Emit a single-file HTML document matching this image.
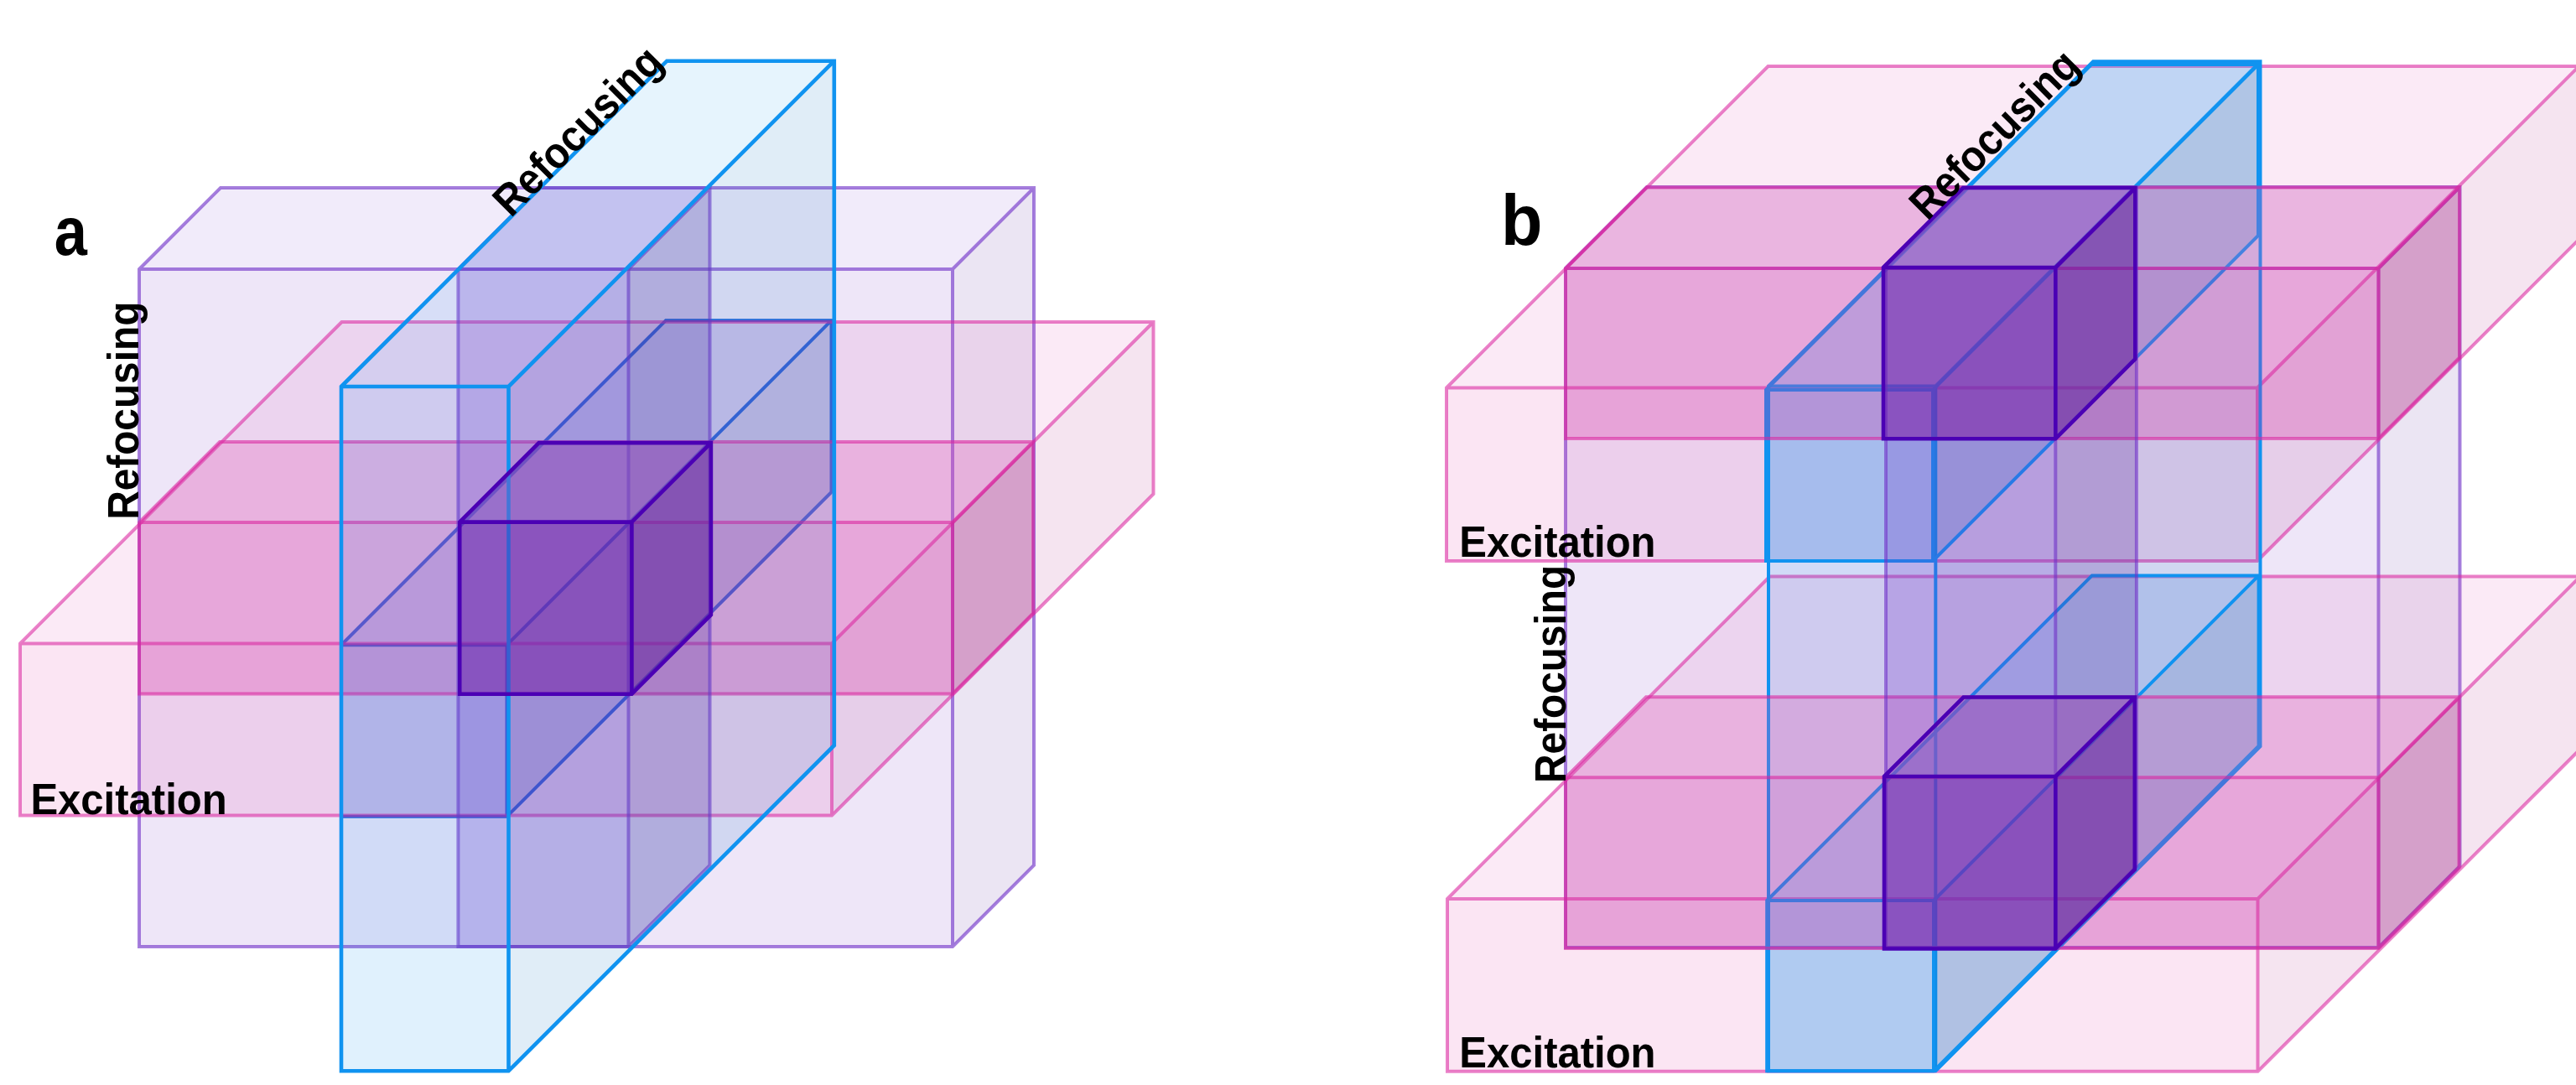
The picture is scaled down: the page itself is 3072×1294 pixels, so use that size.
<!DOCTYPE html>
<html lang="en"><head><meta charset="utf-8"><title>Figure</title>
<style>
html,body{margin:0;padding:0;background:#fff;}
body{width:3072px;height:1294px;overflow:hidden;}
svg{display:block;}
text{font-family:"Liberation Sans",sans-serif;font-weight:bold;fill:#000;}
</style></head><body>
<svg width="3072" height="1294" viewBox="0 0 3072 1294">
<rect width="3072" height="1294" fill="#fff"/>
<g><path d="M166.0 321.0H1136.0V1129.0H166.0Z" fill="rgba(112,48,200,0.120)"/><path d="M166.0 321.0L263.0 224.0L1233.0 224.0L1136.0 321.0Z" fill="rgba(141,89,211,0.120)"/><path d="M1136.0 321.0L1233.0 224.0L1233.0 1032.0L1136.0 1129.0Z" fill="rgba(90,38,160,0.120)"/><path d="M166.0 321.0L263.0 224.0L1233.0 224.0L1233.0 1032.0L1136.0 1129.0L166.0 1129.0Z M166.0 321.0H1136.0V1129.0 M1136.0 321.0L1233.0 224.0" fill="none" stroke="rgba(112,48,200,0.620)" stroke-width="4.0" stroke-linejoin="miter"/></g>
<g><path d="M407.0 769.2H604.5V973.8H407.0Z" fill="rgba(35,100,218,0.190)"/><path d="M407.0 769.2L794.0 382.2L991.5 382.2L604.5 769.2Z" fill="rgba(79,131,225,0.190)"/><path d="M604.5 769.2L991.5 382.2L991.5 586.8L604.5 973.8Z" fill="rgba(28,80,174,0.190)"/><path d="M407.0 769.2L794.0 382.2L991.5 382.2L991.5 586.8L604.5 973.8L407.0 973.8Z M407.0 769.2H604.5V973.8 M604.5 769.2L991.5 382.2" fill="none" stroke="rgba(35,100,218,1.000)" stroke-width="4.0" stroke-linejoin="miter"/></g>
<g><path d="M24.0 767.5H992.0V972.6H24.0Z" fill="rgba(218,38,160,0.120)"/><path d="M24.0 767.5L407.5 384.0L1375.5 384.0L992.0 767.5Z" fill="rgba(225,81,179,0.120)"/><path d="M992.0 767.5L1375.5 384.0L1375.5 589.1L992.0 972.6Z" fill="rgba(174,30,128,0.120)"/><path d="M24.0 767.5L407.5 384.0L1375.5 384.0L1375.5 589.1L992.0 972.6L24.0 972.6Z M24.0 767.5H992.0V972.6 M992.0 767.5L1375.5 384.0" fill="none" stroke="rgba(218,38,160,0.580)" stroke-width="4.0" stroke-linejoin="miter"/></g>
<g><path d="M166.0 623.0H1136.0V827.5H166.0Z" fill="rgba(218,38,160,0.260)"/><path d="M166.0 623.0L262.0 527.0L1232.0 527.0L1136.0 623.0Z" fill="rgba(225,81,179,0.260)"/><path d="M1136.0 623.0L1232.0 527.0L1232.0 731.5L1136.0 827.5Z" fill="rgba(174,30,128,0.260)"/><path d="M166.0 623.0L262.0 527.0L1232.0 527.0L1232.0 731.5L1136.0 827.5L166.0 827.5Z M166.0 623.0H1136.0V827.5 M1136.0 623.0L1232.0 527.0" fill="none" stroke="rgba(218,38,160,0.600)" stroke-width="4.0" stroke-linejoin="miter"/></g>
<g><path d="M546.4 321.0H749.5V1129.0H546.4Z" fill="rgba(112,48,200,0.250)"/><path d="M546.4 321.0L643.4 224.0L846.5 224.0L749.5 321.0Z" fill="rgba(141,89,211,0.250)"/><path d="M749.5 321.0L846.5 224.0L846.5 1032.0L749.5 1129.0Z" fill="rgba(90,38,160,0.250)"/><path d="M546.4 321.0L643.4 224.0L846.5 224.0L846.5 1032.0L749.5 1129.0L546.4 1129.0Z M546.4 321.0H749.5V1129.0 M749.5 321.0L846.5 224.0" fill="none" stroke="rgba(112,48,200,0.600)" stroke-width="4.0" stroke-linejoin="miter"/></g>
<g><path d="M407.0 461.0H606.5V1277.3H407.0Z" fill="rgba(16,147,240,0.130)"/><path d="M407.0 461.0L795.3 72.7L994.8 72.7L606.5 461.0Z" fill="rgba(64,169,243,0.130)"/><path d="M606.5 461.0L994.8 72.7L994.8 889.0L606.5 1277.3Z" fill="rgba(13,118,192,0.130)"/><path d="M407.0 461.0L795.3 72.7L994.8 72.7L994.8 889.0L606.5 1277.3L407.0 1277.3Z M407.0 461.0H606.5V1277.3 M606.5 461.0L994.8 72.7" fill="none" stroke="rgba(16,147,240,1.000)" stroke-width="4.6" stroke-linejoin="miter"/></g>
<g><path d="M548.2 622.6H753.4V827.7H548.2Z" fill="rgba(105,28,164,0.420)"/><path d="M548.2 622.6L642.7 528.1L847.9 528.1L753.4 622.6Z" fill="rgba(138,78,184,0.420)"/><path d="M753.4 622.6L847.9 528.1L847.9 733.2L753.4 827.7Z" fill="rgba(99,26,154,0.420)"/><path d="M548.2 622.6L642.7 528.1L847.9 528.1L847.9 733.2L753.4 827.7L548.2 827.7Z M548.2 622.6H753.4V827.7 M753.4 622.6L847.9 528.1" fill="none" stroke="rgba(75,0,180,1.000)" stroke-width="4.6" stroke-linejoin="miter"/></g>
<g><path d="M1867.0 320.0H2836.5V1130.0H1867.0Z" fill="rgba(112,48,200,0.120)"/><path d="M1867.0 320.0L1964.0 223.0L2933.5 223.0L2836.5 320.0Z" fill="rgba(141,89,211,0.120)"/><path d="M2836.5 320.0L2933.5 223.0L2933.5 1033.0L2836.5 1130.0Z" fill="rgba(90,38,160,0.120)"/><path d="M1867.0 320.0L1964.0 223.0L2933.5 223.0L2933.5 1033.0L2836.5 1130.0L1867.0 1130.0Z M1867.0 320.0H2836.5V1130.0 M2836.5 320.0L2933.5 223.0" fill="none" stroke="rgba(112,48,200,0.620)" stroke-width="4.0" stroke-linejoin="miter"/></g>
<g><path d="M1725.0 462.5H2692.0V669.0H1725.0Z" fill="rgba(218,38,160,0.120)"/><path d="M1725.0 462.5L2108.5 79.0L3075.5 79.0L2692.0 462.5Z" fill="rgba(225,81,179,0.120)"/><path d="M2692.0 462.5L3075.5 79.0L3075.5 285.5L2692.0 669.0Z" fill="rgba(174,30,128,0.120)"/><path d="M1725.0 462.5L2108.5 79.0L3075.5 79.0L3075.5 285.5L2692.0 669.0L1725.0 669.0Z M1725.0 462.5H2692.0V669.0 M2692.0 462.5L3075.5 79.0" fill="none" stroke="rgba(218,38,160,0.580)" stroke-width="4.0" stroke-linejoin="miter"/></g>
<g><path d="M1726.0 1072.0H2692.5V1277.8H1726.0Z" fill="rgba(218,38,160,0.120)"/><path d="M1726.0 1072.0L2110.5 687.5L3077.0 687.5L2692.5 1072.0Z" fill="rgba(225,81,179,0.120)"/><path d="M2692.5 1072.0L3077.0 687.5L3077.0 893.3L2692.5 1277.8Z" fill="rgba(174,30,128,0.120)"/><path d="M1726.0 1072.0L2110.5 687.5L3077.0 687.5L3077.0 893.3L2692.5 1277.8L1726.0 1277.8Z M1726.0 1072.0H2692.5V1277.8 M2692.5 1072.0L3077.0 687.5" fill="none" stroke="rgba(218,38,160,0.580)" stroke-width="4.0" stroke-linejoin="miter"/></g>
<g><path d="M2109.0 460.5H2308.3V1277.3H2109.0Z" fill="rgba(16,147,240,0.130)"/><path d="M2109.0 460.5L2496.2 73.3L2695.5 73.3L2308.3 460.5Z" fill="rgba(64,169,243,0.130)"/><path d="M2308.3 460.5L2695.5 73.3L2695.5 890.1L2308.3 1277.3Z" fill="rgba(13,118,192,0.130)"/><path d="M2109.0 460.5L2496.2 73.3L2695.5 73.3L2695.5 890.1L2308.3 1277.3L2109.0 1277.3Z M2109.0 460.5H2308.3V1277.3 M2308.3 460.5L2695.5 73.3" fill="none" stroke="rgba(16,147,240,1.000)" stroke-width="4.0" stroke-linejoin="miter"/></g>
<g><path d="M2106.0 465.0H2305.0V669.0H2106.0Z" fill="rgba(16,147,240,0.210)"/><path d="M2106.0 465.0L2494.0 77.0L2693.0 77.0L2305.0 465.0Z" fill="rgba(64,169,243,0.210)"/><path d="M2305.0 465.0L2693.0 77.0L2693.0 281.0L2305.0 669.0Z" fill="rgba(13,118,192,0.210)"/><path d="M2106.0 465.0L2494.0 77.0L2693.0 77.0L2693.0 281.0L2305.0 669.0L2106.0 669.0Z M2106.0 465.0H2305.0V669.0 M2305.0 465.0L2693.0 77.0" fill="none" stroke="rgba(16,147,240,1.000)" stroke-width="4.0" stroke-linejoin="miter"/></g>
<g><path d="M2107.2 1074.0H2306.0V1277.3H2107.2Z" fill="rgba(16,147,240,0.210)"/><path d="M2107.2 1074.0L2494.8 686.4L2693.6 686.4L2306.0 1074.0Z" fill="rgba(64,169,243,0.210)"/><path d="M2306.0 1074.0L2693.6 686.4L2693.6 889.7L2306.0 1277.3Z" fill="rgba(13,118,192,0.210)"/><path d="M2107.2 1074.0L2494.8 686.4L2693.6 686.4L2693.6 889.7L2306.0 1277.3L2107.2 1277.3Z M2107.2 1074.0H2306.0V1277.3 M2306.0 1074.0L2693.6 686.4" fill="none" stroke="rgba(16,147,240,1.000)" stroke-width="4.0" stroke-linejoin="miter"/></g>
<g><path d="M1867.0 320.0H2836.5V523.0H1867.0Z" fill="rgba(218,38,160,0.260)"/><path d="M1867.0 320.0L1963.6 223.4L2933.1 223.4L2836.5 320.0Z" fill="rgba(225,81,179,0.260)"/><path d="M2836.5 320.0L2933.1 223.4L2933.1 426.4L2836.5 523.0Z" fill="rgba(174,30,128,0.260)"/><path d="M1867.0 320.0L1963.6 223.4L2933.1 223.4L2933.1 426.4L2836.5 523.0L1867.0 523.0Z M1867.0 320.0H2836.5V523.0 M2836.5 320.0L2933.1 223.4" fill="none" stroke="rgba(218,38,160,0.600)" stroke-width="4.0" stroke-linejoin="miter"/></g>
<g><path d="M1867.0 927.3H2836.5V1131.0H1867.0Z" fill="rgba(218,38,160,0.260)"/><path d="M1867.0 927.3L1963.0 831.3L2932.5 831.3L2836.5 927.3Z" fill="rgba(225,81,179,0.260)"/><path d="M2836.5 927.3L2932.5 831.3L2932.5 1035.0L2836.5 1131.0Z" fill="rgba(174,30,128,0.260)"/><path d="M1867.0 927.3L1963.0 831.3L2932.5 831.3L2932.5 1035.0L2836.5 1131.0L1867.0 1131.0Z M1867.0 927.3H2836.5V1131.0 M2836.5 927.3L2932.5 831.3" fill="none" stroke="rgba(218,38,160,0.600)" stroke-width="4.0" stroke-linejoin="miter"/></g>
<g><path d="M2249.0 320.0H2451.3V1130.0H2249.0Z" fill="rgba(112,48,200,0.250)"/><path d="M2249.0 320.0L2345.6 223.4L2547.9 223.4L2451.3 320.0Z" fill="rgba(141,89,211,0.250)"/><path d="M2451.3 320.0L2547.9 223.4L2547.9 1033.4L2451.3 1130.0Z" fill="rgba(90,38,160,0.250)"/><path d="M2249.0 320.0L2345.6 223.4L2547.9 223.4L2547.9 1033.4L2451.3 1130.0L2249.0 1130.0Z M2249.0 320.0H2451.3V1130.0 M2451.3 320.0L2547.9 223.4" fill="none" stroke="rgba(112,48,200,0.600)" stroke-width="4.0" stroke-linejoin="miter"/></g>
<g><path d="M2246.0 319.0H2451.3V523.3H2246.0Z" fill="rgba(105,28,164,0.420)"/><path d="M2246.0 319.0L2341.0 224.0L2546.3 224.0L2451.3 319.0Z" fill="rgba(138,78,184,0.420)"/><path d="M2451.3 319.0L2546.3 224.0L2546.3 428.3L2451.3 523.3Z" fill="rgba(99,26,154,0.420)"/><path d="M2246.0 319.0L2341.0 224.0L2546.3 224.0L2546.3 428.3L2451.3 523.3L2246.0 523.3Z M2246.0 319.0H2451.3V523.3 M2451.3 319.0L2546.3 224.0" fill="none" stroke="rgba(75,0,180,1.000)" stroke-width="4.6" stroke-linejoin="miter"/></g>
<g><path d="M2247.0 926.0H2451.3V1131.5H2247.0Z" fill="rgba(105,28,164,0.420)"/><path d="M2247.0 926.0L2341.5 831.5L2545.8 831.5L2451.3 926.0Z" fill="rgba(138,78,184,0.420)"/><path d="M2451.3 926.0L2545.8 831.5L2545.8 1037.0L2451.3 1131.5Z" fill="rgba(99,26,154,0.420)"/><path d="M2247.0 926.0L2341.5 831.5L2545.8 831.5L2545.8 1037.0L2451.3 1131.5L2247.0 1131.5Z M2247.0 926.0H2451.3V1131.5 M2451.3 926.0L2545.8 831.5" fill="none" stroke="rgba(75,0,180,1.000)" stroke-width="4.6" stroke-linejoin="miter"/></g>

<g>
<text transform="translate(64.8 304.2) rotate(0) scale(0.858 1)" font-size="82">a</text>
<text transform="translate(1789.9 292) rotate(0) scale(0.942 1)" font-size="86">b</text>
<text transform="translate(36.4 970.7) rotate(0) scale(0.943 1)" font-size="52">Excitation</text>
<text transform="translate(1740.3 663.6) rotate(0) scale(0.943 1)" font-size="52">Excitation</text>
<text transform="translate(1740.3 1272.6) rotate(0) scale(0.943 1)" font-size="52">Excitation</text>
<text transform="translate(165 619.8) rotate(-90) scale(0.919 1)" font-size="52">Refocusing</text>
<text transform="translate(1866.8 933.9) rotate(-90) scale(0.919 1)" font-size="52">Refocusing</text>
<text transform="translate(609.2 260.6) rotate(-45) scale(0.919 1)" font-size="52">Refocusing</text>
<text transform="translate(2298.6 264.5) rotate(-45) scale(0.919 1)" font-size="52">Refocusing</text>
</g>
</svg>
</body></html>
